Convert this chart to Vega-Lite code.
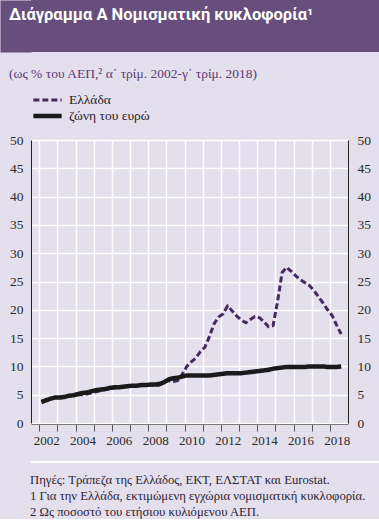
{
  "$schema": "https://vega.github.io/schema/vega-lite/v6.json",
  "padding": 0,
  "background": "#E3DFEC",
  "spacing": 7,
  "columns": 1,
  "align": "none",
  "bounds": "full",
  "resolve": {"legend": {"color": "independent", "strokeDash": "independent", "strokeWidth": "independent"}},
  "config": {
    "view": {"stroke": null},
    "font": "Liberation Serif",
    "axis": {"labelFont": "Liberation Serif", "labelColor": "#2A2A2A"},
    "legend": {"labelFont": "Liberation Serif"}
  },
  "concat": [
    {
      "width": 348,
      "height": 52,
      "view": {"fill": "#674E7C", "stroke": null},
      "title": {
        "text": "Διάγραμμα Α  Νομισματική κυκλοφορία¹",
        "orient": "top",
        "anchor": "start",
        "frame": "group",
        "offset": -23,
        "dx": -22,
        "color": "#FFFFFF",
        "font": "Roboto",
        "fontSize": 16.5,
        "fontWeight": "bold"
      },
      "data": {"values": [{"k": ""}]},
      "mark": {"type": "text"},
      "encoding": {
        "text": {"field": "k", "type": "nominal"},
        "y": {
          "field": "k", "type": "nominal",
          "axis": {"labels": false, "ticks": false, "grid": false, "title": null, "domain": true, "domainColor": "#674E7C", "domainWidth": 31, "domainCap": "butt", "offset": 15.5, "minExtent": 0}
        }
      }
    },
    {
      "width": 317,
      "height": 283,
      "title": {
        "text": " ",
        "subtitle": "(ως % του ΑΕΠ,² α΄ τρίμ. 2002-γ΄ τρίμ. 2018)",
        "anchor": "start",
        "frame": "bounds",
        "dx": 9,
        "offset": 12,
        "font": "Liberation Serif",
        "fontSize": 7,
        "fontWeight": "normal",
        "subtitleFont": "Liberation Serif",
        "subtitleFontSize": 13.5,
        "subtitleColor": "#5B3A75",
        "subtitlePadding": 0,
        "color": "#5B3A75"
      },
      "data": {"values": [
        {"s": "Ελλάδα", "t": 2002.125, "v": 3.8},
        {"s": "Ελλάδα", "t": 2002.375, "v": 4.1},
        {"s": "Ελλάδα", "t": 2002.625, "v": 4.3},
        {"s": "Ελλάδα", "t": 2002.875, "v": 4.5},
        {"s": "Ελλάδα", "t": 2003.125, "v": 4.5},
        {"s": "Ελλάδα", "t": 2003.375, "v": 4.6},
        {"s": "Ελλάδα", "t": 2003.625, "v": 4.7},
        {"s": "Ελλάδα", "t": 2003.875, "v": 4.9},
        {"s": "Ελλάδα", "t": 2004.125, "v": 5.0},
        {"s": "Ελλάδα", "t": 2004.375, "v": 5.0},
        {"s": "Ελλάδα", "t": 2004.625, "v": 5.1},
        {"s": "Ελλάδα", "t": 2004.875, "v": 5.3},
        {"s": "Ελλάδα", "t": 2005.125, "v": 5.5},
        {"s": "Ελλάδα", "t": 2005.375, "v": 5.7},
        {"s": "Ελλάδα", "t": 2005.625, "v": 5.9},
        {"s": "Ελλάδα", "t": 2005.875, "v": 6.0},
        {"s": "Ελλάδα", "t": 2006.125, "v": 6.2},
        {"s": "Ελλάδα", "t": 2006.375, "v": 6.3},
        {"s": "Ελλάδα", "t": 2006.625, "v": 6.4},
        {"s": "Ελλάδα", "t": 2006.875, "v": 6.5},
        {"s": "Ελλάδα", "t": 2007.125, "v": 6.6},
        {"s": "Ελλάδα", "t": 2007.375, "v": 6.6},
        {"s": "Ελλάδα", "t": 2007.625, "v": 6.7},
        {"s": "Ελλάδα", "t": 2007.875, "v": 6.7},
        {"s": "Ελλάδα", "t": 2008.125, "v": 6.7},
        {"s": "Ελλάδα", "t": 2008.375, "v": 6.6},
        {"s": "Ελλάδα", "t": 2008.625, "v": 6.7},
        {"s": "Ελλάδα", "t": 2008.875, "v": 7.3},
        {"s": "Ελλάδα", "t": 2009.125, "v": 7.5},
        {"s": "Ελλάδα", "t": 2009.375, "v": 7.3},
        {"s": "Ελλάδα", "t": 2009.625, "v": 7.5},
        {"s": "Ελλάδα", "t": 2009.875, "v": 8.6},
        {"s": "Ελλάδα", "t": 2010.125, "v": 10.0},
        {"s": "Ελλάδα", "t": 2010.375, "v": 10.8},
        {"s": "Ελλάδα", "t": 2010.625, "v": 11.5},
        {"s": "Ελλάδα", "t": 2010.875, "v": 12.6},
        {"s": "Ελλάδα", "t": 2011.125, "v": 13.4},
        {"s": "Ελλάδα", "t": 2011.375, "v": 15.3},
        {"s": "Ελλάδα", "t": 2011.625, "v": 17.5},
        {"s": "Ελλάδα", "t": 2011.875, "v": 18.7},
        {"s": "Ελλάδα", "t": 2012.125, "v": 19.3},
        {"s": "Ελλάδα", "t": 2012.375, "v": 20.7},
        {"s": "Ελλάδα", "t": 2012.625, "v": 19.8},
        {"s": "Ελλάδα", "t": 2012.875, "v": 18.9},
        {"s": "Ελλάδα", "t": 2013.125, "v": 18.2},
        {"s": "Ελλάδα", "t": 2013.375, "v": 17.7},
        {"s": "Ελλάδα", "t": 2013.625, "v": 18.3},
        {"s": "Ελλάδα", "t": 2013.875, "v": 18.8},
        {"s": "Ελλάδα", "t": 2014.125, "v": 18.6},
        {"s": "Ελλάδα", "t": 2014.375, "v": 17.9},
        {"s": "Ελλάδα", "t": 2014.625, "v": 17.0},
        {"s": "Ελλάδα", "t": 2014.875, "v": 17.2},
        {"s": "Ελλάδα", "t": 2015.125, "v": 21.5},
        {"s": "Ελλάδα", "t": 2015.375, "v": 26.6},
        {"s": "Ελλάδα", "t": 2015.625, "v": 27.5},
        {"s": "Ελλάδα", "t": 2015.875, "v": 26.8},
        {"s": "Ελλάδα", "t": 2016.125, "v": 26.0},
        {"s": "Ελλάδα", "t": 2016.375, "v": 25.3},
        {"s": "Ελλάδα", "t": 2016.625, "v": 24.8},
        {"s": "Ελλάδα", "t": 2016.875, "v": 24.3},
        {"s": "Ελλάδα", "t": 2017.125, "v": 23.4},
        {"s": "Ελλάδα", "t": 2017.375, "v": 22.3},
        {"s": "Ελλάδα", "t": 2017.625, "v": 21.2},
        {"s": "Ελλάδα", "t": 2017.875, "v": 20.0},
        {"s": "Ελλάδα", "t": 2018.125, "v": 19.0},
        {"s": "Ελλάδα", "t": 2018.375, "v": 17.3},
        {"s": "Ελλάδα", "t": 2018.625, "v": 15.7},
        {"s": "ζώνη του ευρώ", "t": 2002.125, "v": 3.7},
        {"s": "ζώνη του ευρώ", "t": 2002.375, "v": 4.0},
        {"s": "ζώνη του ευρώ", "t": 2002.625, "v": 4.3},
        {"s": "ζώνη του ευρώ", "t": 2002.875, "v": 4.5},
        {"s": "ζώνη του ευρώ", "t": 2003.125, "v": 4.5},
        {"s": "ζώνη του ευρώ", "t": 2003.375, "v": 4.6},
        {"s": "ζώνη του ευρώ", "t": 2003.625, "v": 4.8},
        {"s": "ζώνη του ευρώ", "t": 2003.875, "v": 4.9},
        {"s": "ζώνη του ευρώ", "t": 2004.125, "v": 5.1},
        {"s": "ζώνη του ευρώ", "t": 2004.375, "v": 5.3},
        {"s": "ζώνη του ευρώ", "t": 2004.625, "v": 5.4},
        {"s": "ζώνη του ευρώ", "t": 2004.875, "v": 5.6},
        {"s": "ζώνη του ευρώ", "t": 2005.125, "v": 5.8},
        {"s": "ζώνη του ευρώ", "t": 2005.375, "v": 5.9},
        {"s": "ζώνη του ευρώ", "t": 2005.625, "v": 6.0},
        {"s": "ζώνη του ευρώ", "t": 2005.875, "v": 6.2},
        {"s": "ζώνη του ευρώ", "t": 2006.125, "v": 6.3},
        {"s": "ζώνη του ευρώ", "t": 2006.375, "v": 6.3},
        {"s": "ζώνη του ευρώ", "t": 2006.625, "v": 6.4},
        {"s": "ζώνη του ευρώ", "t": 2006.875, "v": 6.5},
        {"s": "ζώνη του ευρώ", "t": 2007.125, "v": 6.6},
        {"s": "ζώνη του ευρώ", "t": 2007.375, "v": 6.6},
        {"s": "ζώνη του ευρώ", "t": 2007.625, "v": 6.7},
        {"s": "ζώνη του ευρώ", "t": 2007.875, "v": 6.7},
        {"s": "ζώνη του ευρώ", "t": 2008.125, "v": 6.8},
        {"s": "ζώνη του ευρώ", "t": 2008.375, "v": 6.8},
        {"s": "ζώνη του ευρώ", "t": 2008.625, "v": 6.9},
        {"s": "ζώνη του ευρώ", "t": 2008.875, "v": 7.2},
        {"s": "ζώνη του ευρώ", "t": 2009.125, "v": 7.7},
        {"s": "ζώνη του ευρώ", "t": 2009.375, "v": 7.9},
        {"s": "ζώνη του ευρώ", "t": 2009.625, "v": 8.0},
        {"s": "ζώνη του ευρώ", "t": 2009.875, "v": 8.2},
        {"s": "ζώνη του ευρώ", "t": 2010.125, "v": 8.4},
        {"s": "ζώνη του ευρώ", "t": 2010.375, "v": 8.4},
        {"s": "ζώνη του ευρώ", "t": 2010.625, "v": 8.4},
        {"s": "ζώνη του ευρώ", "t": 2010.875, "v": 8.4},
        {"s": "ζώνη του ευρώ", "t": 2011.125, "v": 8.4},
        {"s": "ζώνη του ευρώ", "t": 2011.375, "v": 8.4},
        {"s": "ζώνη του ευρώ", "t": 2011.625, "v": 8.5},
        {"s": "ζώνη του ευρώ", "t": 2011.875, "v": 8.6},
        {"s": "ζώνη του ευρώ", "t": 2012.125, "v": 8.7},
        {"s": "ζώνη του ευρώ", "t": 2012.375, "v": 8.8},
        {"s": "ζώνη του ευρώ", "t": 2012.625, "v": 8.8},
        {"s": "ζώνη του ευρώ", "t": 2012.875, "v": 8.8},
        {"s": "ζώνη του ευρώ", "t": 2013.125, "v": 8.8},
        {"s": "ζώνη του ευρώ", "t": 2013.375, "v": 8.9},
        {"s": "ζώνη του ευρώ", "t": 2013.625, "v": 9.0},
        {"s": "ζώνη του ευρώ", "t": 2013.875, "v": 9.1},
        {"s": "ζώνη του ευρώ", "t": 2014.125, "v": 9.2},
        {"s": "ζώνη του ευρώ", "t": 2014.375, "v": 9.3},
        {"s": "ζώνη του ευρώ", "t": 2014.625, "v": 9.4},
        {"s": "ζώνη του ευρώ", "t": 2014.875, "v": 9.6},
        {"s": "ζώνη του ευρώ", "t": 2015.125, "v": 9.7},
        {"s": "ζώνη του ευρώ", "t": 2015.375, "v": 9.8},
        {"s": "ζώνη του ευρώ", "t": 2015.625, "v": 9.9},
        {"s": "ζώνη του ευρώ", "t": 2015.875, "v": 9.9},
        {"s": "ζώνη του ευρώ", "t": 2016.125, "v": 9.9},
        {"s": "ζώνη του ευρώ", "t": 2016.375, "v": 9.9},
        {"s": "ζώνη του ευρώ", "t": 2016.625, "v": 9.9},
        {"s": "ζώνη του ευρώ", "t": 2016.875, "v": 10.0},
        {"s": "ζώνη του ευρώ", "t": 2017.125, "v": 10.0},
        {"s": "ζώνη του ευρώ", "t": 2017.375, "v": 10.0},
        {"s": "ζώνη του ευρώ", "t": 2017.625, "v": 10.0},
        {"s": "ζώνη του ευρώ", "t": 2017.875, "v": 9.9},
        {"s": "ζώνη του ευρώ", "t": 2018.125, "v": 9.9},
        {"s": "ζώνη του ευρώ", "t": 2018.375, "v": 9.9},
        {"s": "ζώνη του ευρώ", "t": 2018.625, "v": 10.0}
      ]},
      "layer": [
        {
          "mark": {"type": "line", "strokeCap": "butt", "strokeJoin": "round"},
          "encoding": {
            "x": {
              "field": "t", "type": "quantitative",
              "scale": {"domain": [2001.55, 2019], "nice": false, "zero": false},
              "axis": {
                "title": null,
                "values": [2002, 2003, 2004, 2005, 2006, 2007, 2008, 2009, 2010, 2011, 2012, 2013, 2014, 2015, 2016, 2017, 2018],
                "labels": false,
                "grid": true,
                "gridColor": "#FFFFFF",
                "gridWidth": 1.5,
                "ticks": true,
                "tickSize": 7,
                "tickColor": "#555555",
                "domainColor": "#777777",
                "offset": 1
              }
            },
            "y": {
              "field": "v", "type": "quantitative",
              "scale": {"domain": [0, 50], "nice": false},
              "axis": {
                "title": null,
                "values": [0, 5, 10, 15, 20, 25, 30, 35, 40, 45, 50],
                "grid": true,
                "gridColor": "#FFFFFF",
                "gridWidth": 1.5,
                "ticks": false,
                "domainColor": "#222222",
                "labelFontSize": 13.5,
                "labelPadding": 8,
                "minExtent": 31,
                "maxExtent": 31
              }
            },
            "color": {
              "field": "s", "type": "nominal",
              "scale": {"domain": ["Ελλάδα", "ζώνη του ευρώ"], "range": ["#45295F", "#1A1A1A"]},
              "legend": {
                "title": null,
                "orient": "top",
                "direction": "vertical",
                "symbolType": "stroke",
                "symbolSize": 800,
                "clipHeight": 16,
                "padding": 0,
                "labelFontSize": 13.5,
                "labelColor": "#2A2226",
                "rowPadding": 0,
                "labelOffset": 5,
                "offset": 16
              }
            },
            "strokeDash": {
              "field": "s", "type": "nominal",
              "scale": {"domain": ["Ελλάδα", "ζώνη του ευρώ"], "range": [[6, 3], [1, 0]]}
            },
            "strokeWidth": {
              "field": "s", "type": "nominal",
              "scale": {"domain": ["Ελλάδα", "ζώνη του ευρώ"], "range": [3, 4.5]},
              "legend": null
            }
          }
        },
        {
          "mark": {"type": "line", "opacity": 0},
          "encoding": {
            "x": {
              "field": "t", "type": "quantitative",
              "axis": {
                "orient": "bottom",
                "title": null,
                "values": [2002, 2004, 2006, 2008, 2010, 2012, 2014, 2016, 2018],
                "format": "d",
                "labelOffset": 7,
                "labelFlush": false,
                "labelOverlap": false,
                "labelFontSize": 13,
                "labelPadding": 10,
                "grid": false,
                "ticks": false,
                "domain": false,
                "offset": 1
              }
            },
            "y": {
              "field": "v", "type": "quantitative",
              "axis": {
                "orient": "right",
                "title": null,
                "values": [0, 5, 10, 15, 20, 25, 30, 35, 40, 45, 50],
                "grid": false,
                "ticks": false,
                "domainColor": "#222222",
                "labelFontSize": 13.5,
                "labelPadding": 9
              }
            },
            "detail": {"field": "s", "type": "nominal"}
          }
        }
      ],
      "resolve": {"axis": {"y": "independent", "x": "independent"}}
    },
    {
      "width": 361,
      "height": 2,
      "view": {"fill": "#FFFFFF", "stroke": null},
      "title": {
        "text": [
          "Πηγές: Τράπεζα της Ελλάδος, ΕΚΤ, ΕΛΣΤΑΤ και Eurostat.",
          "1 Για την Ελλάδα, εκτιμώμενη εγχώρια νομισματική κυκλοφορία.",
          "2 Ως ποσοστό του ετήσιου κυλιόμενου ΑΕΠ."
        ],
        "orient": "bottom",
        "anchor": "start",
        "frame": "group",
        "dx": -1,
        "offset": 7,
        "lineHeight": 16,
        "font": "Liberation Serif",
        "fontSize": 12.7,
        "fontWeight": "normal",
        "color": "#2E2433"
      },
      "data": {"values": [{"k": 0}]},
      "mark": {"type": "text"},
      "encoding": {
        "x": {
          "field": "k", "type": "nominal",
          "axis": {"orient": "top", "labels": false, "ticks": false, "domain": false, "grid": false, "title": null, "minExtent": 7, "maxExtent": 7}
        },
        "y": {
          "field": "k", "type": "nominal",
          "axis": {"labels": false, "ticks": false, "domain": false, "grid": false, "title": null, "minExtent": 10, "maxExtent": 10}
        },
        "text": {"value": ""}
      }
    }
  ]
}
